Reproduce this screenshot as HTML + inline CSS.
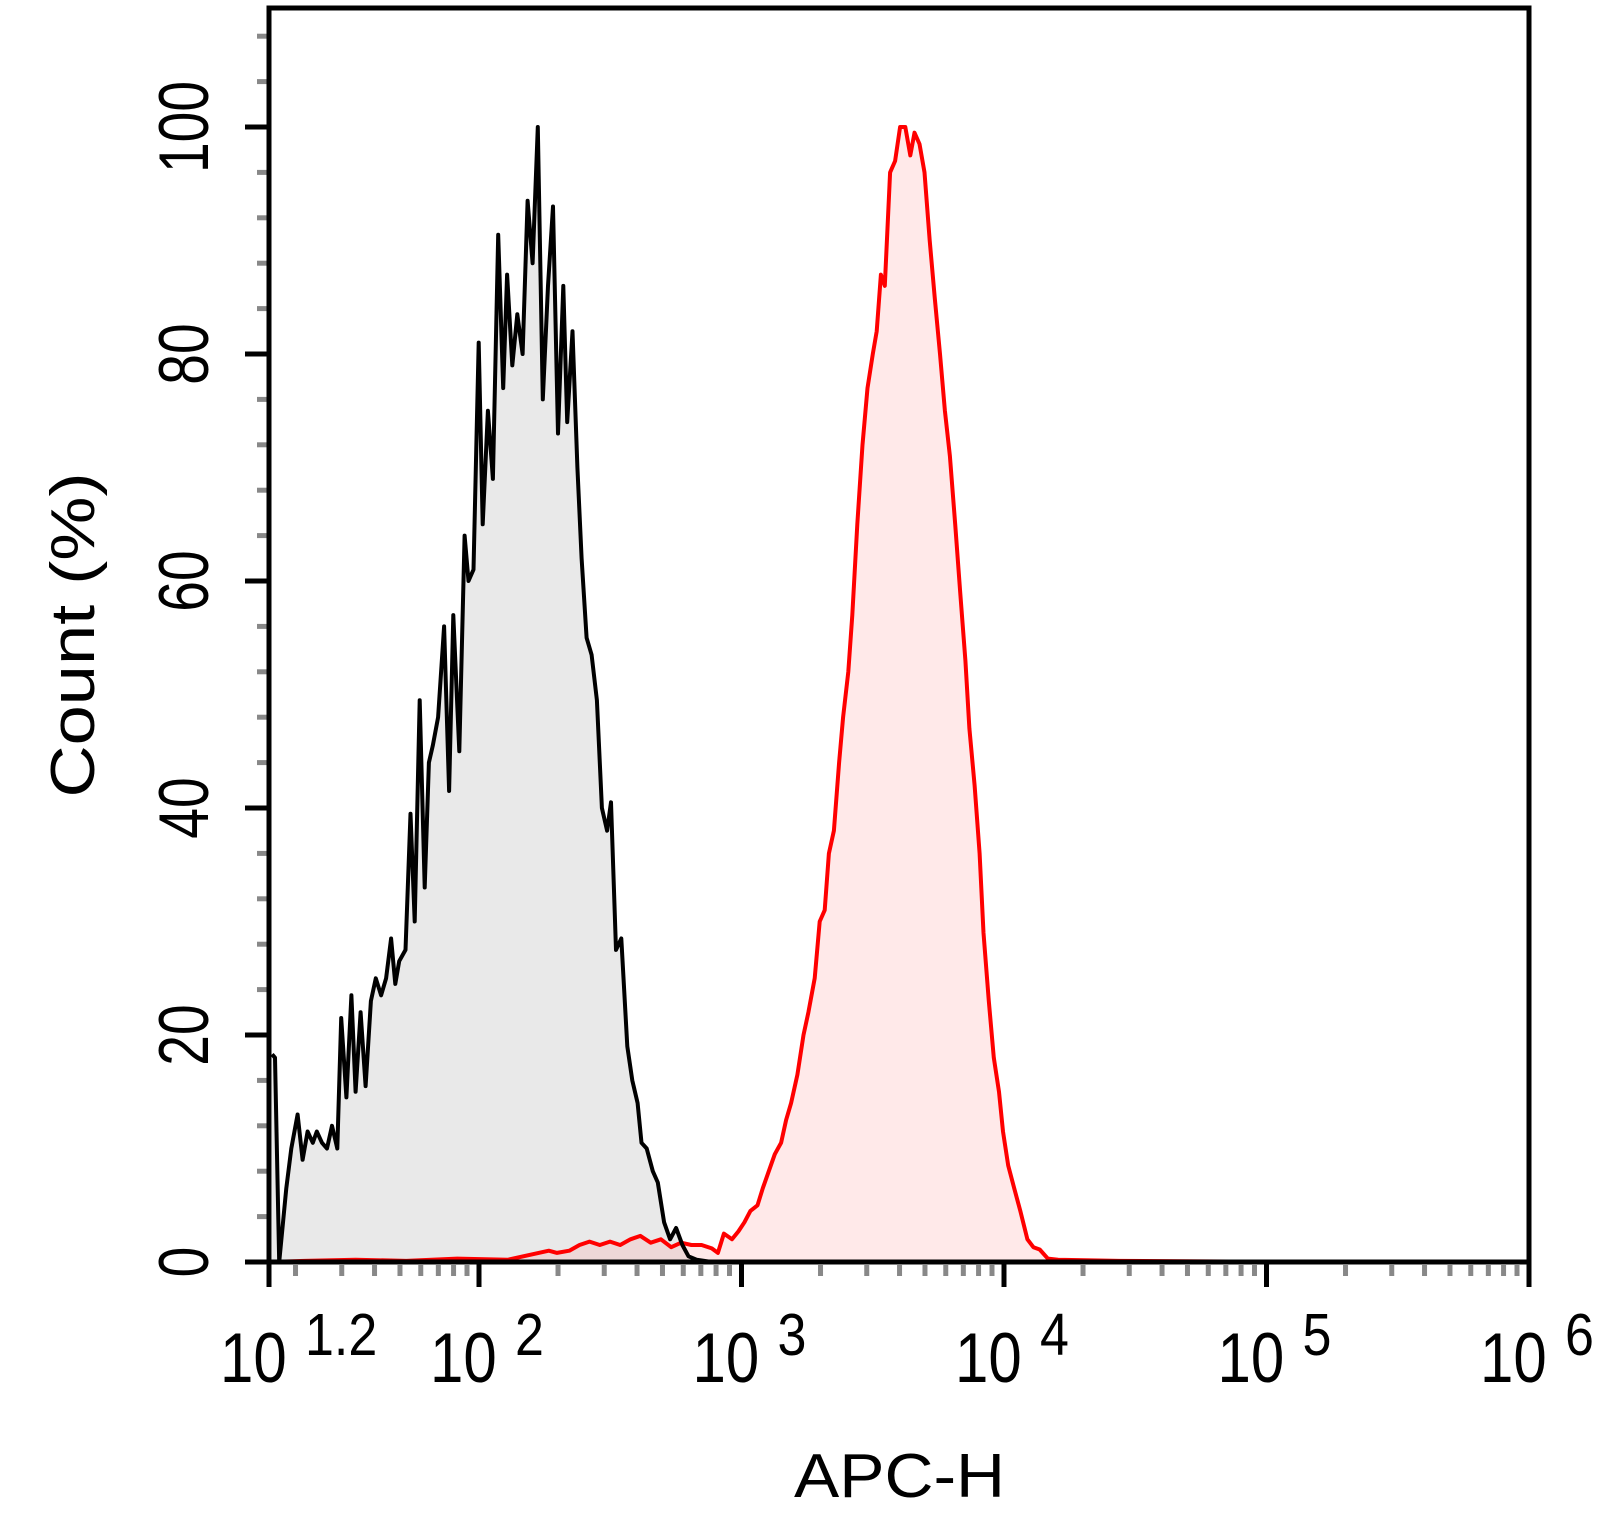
<!DOCTYPE html>
<html><head><meta charset="utf-8"><style>
html,body{margin:0;padding:0;background:#fff;}
svg{display:block;font-family:"Liberation Sans",Arial,sans-serif;}
</style></head><body>
<svg id="chart" width="1597" height="1526" viewBox="0 0 1597 1526" xmlns="http://www.w3.org/2000/svg">
<g id="fills"></g>
<g id="lines"></g>
<g id="axes"></g>
<g id="labels"></g>
</svg>
<script>
const blackLog = [1.212,1.223,1.239,1.266,1.285,1.309,1.328,1.347,1.367,1.382,1.402,1.421,1.440,1.460,1.475,1.495,1.514,1.530,1.549,1.568,1.588,1.607,1.627,1.646,1.665,1.681,1.696,1.720,1.739,1.755,1.774,1.793,1.809,1.824,1.844,1.867,1.886,1.902,1.925,1.945,1.960,1.979,1.999,2.014,2.034,2.053,2.073,2.092,2.107,2.127,2.146,2.166,2.185,2.204,2.224,2.243,2.263,2.282,2.301,2.321,2.336,2.356,2.375,2.391,2.410,2.429,2.449,2.468,2.488,2.503,2.522,2.542,2.565,2.584,2.604,2.619,2.639,2.662,2.681,2.705,2.728,2.751,2.775,2.798,2.829,2.887];
const blackCount = [18.3,18,0,6.5,10,13,9,11.5,10.5,11.5,10.5,10,12,10,21.5,14.5,23.5,15,22,15.5,23,25,23.5,25,28.5,24.5,26.5,27.5,39.5,30,49.5,33,44,45.5,48,56,41.5,57,45,64,60,61,81,65,75,69,90.5,77,87,79,83.5,80,93.5,88,100,76,86,93,73,86,74,82,70,62,55,53.5,49.5,40,38,40.5,27.5,28.5,19,16,14,10.5,10,8,7,3.5,2,3,1.5,0.5,0.2,0];
const redLog = [1.2,1.336,1.530,1.723,1.917,2.111,2.266,2.297,2.344,2.383,2.421,2.460,2.499,2.538,2.577,2.615,2.654,2.693,2.732,2.770,2.809,2.848,2.887,2.910,2.933,2.964,2.988,3.011,3.034,3.061,3.081,3.104,3.127,3.151,3.170,3.189,3.213,3.236,3.255,3.279,3.298,3.317,3.333,3.352,3.372,3.387,3.407,3.422,3.441,3.461,3.480,3.500,3.515,3.531,3.546,3.566,3.585,3.604,3.624,3.643,3.659,3.678,3.697,3.717,3.736,3.756,3.775,3.794,3.814,3.833,3.853,3.868,3.888,3.907,3.922,3.942,3.961,3.981,3.996,4.016,4.039,4.062,4.089,4.112,4.136,4.167,4.206,4.438,5.214,6.0];
const redCount = [0,0.1,0.2,0.1,0.3,0.2,1,0.8,1,1.5,1.8,1.5,1.8,1.5,2,2.3,1.7,2,1.3,1.7,1.5,1.5,1.2,0.8,2.5,2,2.7,3.5,4.5,5,6.5,8,9.5,10.5,12.5,14,16.5,20,22,25,30,31,36,38,44,48,52,57,65,72,77,80,82,87,86,96,97,100,100,97.5,99.5,98.5,96,90,85,80,75,71,65,59,53,47,42,36,29,23,18,15,11.5,8.5,6.5,4.5,2,1.3,1.1,0.3,0.2,0.1,0,0];
const yTicks = [0,20,40,60,80,100];
const xMajor = [1.2,2,3,4,5,6];
const xSup = ["1.2","2","3","4","5","6"];

const L=269,R=1529,T=8,B=1262;
const xMin=1.2,xMax=6,yPerUnit=11.35;
const xs = v => L + (v - xMin) * (R - L) / (xMax - xMin);
const ys = v => B - v * yPerUnit;
const NS="http://www.w3.org/2000/svg";
function mk(tag, parent, attrs){const e=document.createElementNS(NS,tag);for(const k in attrs)e.setAttribute(k,attrs[k]);parent.appendChild(e);return e;}
const fills=document.getElementById('fills'),lines=document.getElementById('lines'),axes=document.getElementById('axes'),labels=document.getElementById('labels');

function pts(lx, ly){return lx.map((v,i)=>xs(v).toFixed(1)+','+ys(ly[i]).toFixed(1)).join(' ');}
const bArea = mk('polygon', fills, {points: xs(blackLog[0])+','+B+' '+pts(blackLog,blackCount)+' '+xs(blackLog[blackLog.length-1])+','+B, fill:'#e9e9e9'});


const rArea = mk('polygon', fills, {points: xs(redLog[0])+','+B+' '+pts(redLog,redCount)+' '+xs(redLog[redLog.length-1])+','+B, fill:'#ff9a9a', 'fill-opacity':'0.22'});


const rLine = mk('polyline', lines, {points: pts(redLog,redCount), fill:'none', stroke:'#ff0000','stroke-width':4,'stroke-linejoin':'round'});


const bLine = mk('polyline', lines, {points: pts(blackLog,blackCount), fill:'none', stroke:'#000','stroke-width':4,'stroke-linejoin':'round'});



// y minor ticks
for(let v=0; v<=110; v+=4){
  if(v%20===0) continue;
  const t = mk('line', axes, {x1:257,x2:267,y1:ys(v),y2:ys(v),stroke:'#888','stroke-width':5});
  
  
}
// x minor ticks
for(let d=1; d<6; d++){
  for(let m=2;m<=9;m++){
    const lv=d+Math.log10(m);
    if(lv<=xMin+0.01||lv>=xMax) continue;
    const t = mk('line', axes, {x1:xs(lv),x2:xs(lv),y1:1265,y2:1276,stroke:'#888','stroke-width':5});
    
    
  }
}
// frame
const frame = mk('rect', axes, {x:L,y:T,width:R-L,height:B-T,fill:'none',stroke:'#000','stroke-width':5});


// y major ticks + labels
yTicks.forEach(v=>{
  const t = mk('line', axes, {x1:245,x2:L,y1:ys(v),y2:ys(v),stroke:'#000','stroke-width':5});
  
  
  const tx = mk('text', labels, {transform:'translate(208,'+ys(v)+') rotate(-90) scale(0.92,1.17)','text-anchor':'middle','font-size':60,fill:'#000'});
  tx.textContent = String(v);
  
  
});
// x major ticks + labels
xMajor.forEach((v,i)=>{
  const t = mk('line', axes, {x1:xs(v),x2:xs(v),y1:B,y2:1287,stroke:'#000','stroke-width':5});
  
  
  const g = mk('g', labels, {});
  
  
  const base = mk('text', g, {transform:'translate('+(xs(v)-49)+',1382) scale(1.0,1.17)','font-size':60,fill:'#000'});
  base.textContent='10';
  const sup = mk('text', g, {transform:'translate('+(xs(v)+36)+',1355) scale(1.0,1.15)','font-size':52,fill:'#000'});
  sup.textContent=xSup[i];
});
// axis titles
const yt = mk('text', labels, {transform:'translate(94,635) rotate(-90)','text-anchor':'middle','font-size':62,fill:'#000',textLength:325,lengthAdjust:'spacingAndGlyphs'});
yt.textContent='Count  (%)';


const xt = mk('text', labels, {x:794,y:1497,'font-size':62,fill:'#000',textLength:211,lengthAdjust:'spacingAndGlyphs'});
xt.textContent='APC-H';


</script>
</body></html>
